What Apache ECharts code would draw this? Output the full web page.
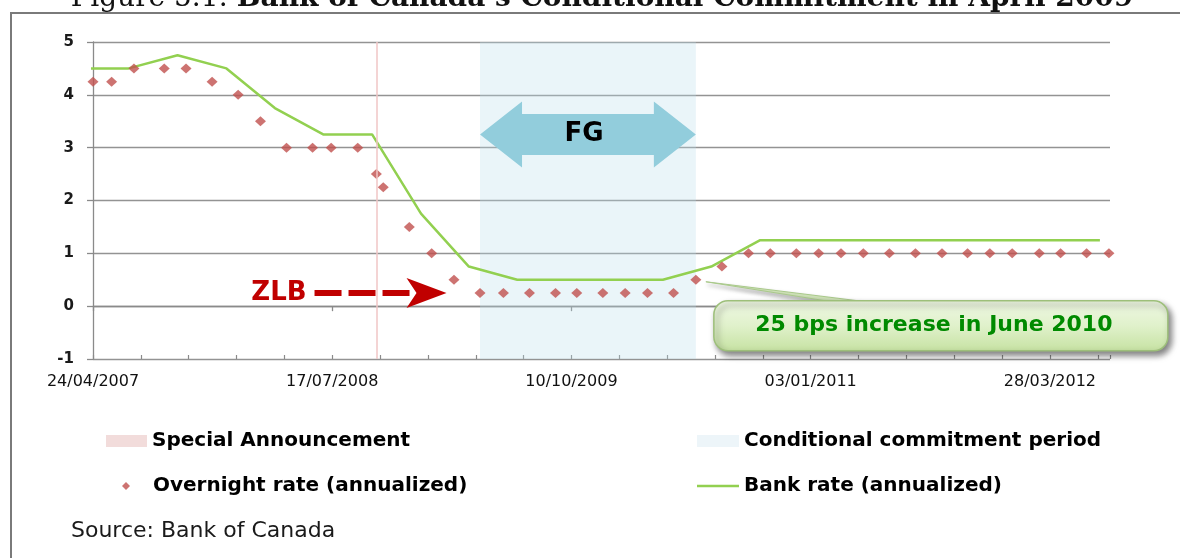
<!DOCTYPE html>
<html>
<head>
<meta charset="utf-8">
<title>Bank of Canada's Conditional Commitment in April 2009</title>
<script src="https://cdn.jsdelivr.net/npm/echarts@6/dist/echarts.min.js"></script>
<style>
  html, body { margin: 0; padding: 0; background: #fff; }
  #chart { width: 1180px; height: 558px; }
</style>
</head>
<body>
<div id="chart"></div>
<script>
// overnight target rate, on the fixed announcement dates (+ the special one in Oct 2008)
var overnightDates = [
  '2007-04-24', '2007-05-29', '2007-07-10', '2007-09-05', '2007-10-16', '2007-12-04',
  '2008-01-22', '2008-03-04', '2008-04-22', '2008-06-10', '2008-07-15', '2008-09-03', '2008-10-08', '2008-10-21', '2008-12-09',
  '2009-01-20', '2009-03-03', '2009-04-21', '2009-06-04', '2009-07-23', '2009-09-10', '2009-10-20', '2009-12-08',
  '2010-01-19', '2010-03-02', '2010-04-20', '2010-06-01', '2010-07-20', '2010-09-08', '2010-10-19', '2010-12-07',
  '2011-01-18', '2011-03-01', '2011-04-12', '2011-05-31', '2011-07-19', '2011-09-07', '2011-10-25', '2011-12-06',
  '2012-01-17', '2012-03-08', '2012-04-17', '2012-06-05', '2012-07-17'
];
var overnightRate = [
  4.25, 4.25, 4.5, 4.5, 4.5, 4.25,
  4, 3.5, 3, 3, 3, 3, 2.5, 2.25, 1.5,
  1, 0.5, 0.25, 0.25, 0.25, 0.25, 0.25, 0.25,
  0.25, 0.25, 0.25, 0.5, 0.75, 1, 1, 1,
  1, 1, 1, 1, 1, 1, 1, 1,
  1, 1, 1, 1, 1
];

// bank rate, quarter ends
var bankDates = [
  '2007-03-31', '2007-06-30', '2007-09-30', '2007-12-31',
  '2008-03-31', '2008-06-30', '2008-09-30', '2008-12-31',
  '2009-03-31', '2009-06-30', '2009-09-30', '2009-12-31',
  '2010-03-31', '2010-06-30', '2010-09-30', '2010-12-31',
  '2011-03-31', '2011-06-30', '2011-09-30', '2011-12-31',
  '2012-03-31', '2012-06-30'
];
var bankRate = [
  4.5, 4.5, 4.75, 4.5,
  3.75, 3.25, 3.25, 1.75,
  0.75, 0.5, 0.5, 0.5,
  0.5, 0.75, 1.25, 1.25,
  1.25, 1.25, 1.25, 1.25,
  1.25, 1.25
];

var specialAnnouncement = '2008-10-08';
var commitmentPeriod = ['2009-04-21', '2010-06-01'];

// axes
var axisStart = '2007-04-24';
var axisEnd = '2012-07-19';
var majorTickDays = 450;
var minorTickDays = 90;
var yTicks = [-1, 0, 1, 2, 3, 4, 5];

// annotations
var fgLevel = 3.25;
var zlbPoint = ['2009-02-17', 0.25];
var increasePoint = ['2010-06-01', 0.5];

var DAY = 86400000;
function dayOf(s) {
  return Math.round((Date.parse(s) - Date.parse(axisStart)) / DAY);
}
function dateLabel(v) {
  var d = new Date(Date.parse(axisStart) + v * DAY);
  var dd = ('0' + d.getUTCDate()).slice(-2);
  var mm = ('0' + (d.getUTCMonth() + 1)).slice(-2);
  return dd + '/' + mm + '/' + d.getUTCFullYear();
}

var axisGray = '#8a8a8a';
var legendText = { fontFamily: 'DejaVu Sans', fontWeight: 'bold', fontSize: 20, color: '#000' };

var chart = echarts.init(document.getElementById('chart'));

var option = {
  animation: false,
  grid: { left: 93, right: 70, top: 42, bottom: 199 },
  xAxis: [{
    type: 'value',
    min: 0,
    max: dayOf(axisEnd),
    interval: majorTickDays,
    axisLine: { lineStyle: { color: axisGray, width: 1.3 } },
    axisTick: { length: 5, lineStyle: { color: axisGray, width: 1.3 } },
    axisLabel: {
      margin: 15, fontSize: 16, fontFamily: 'DejaVu Sans', color: '#111',
      showMaxLabel: false, formatter: dateLabel
    },
    splitLine: { show: false }
  }, {
    // inside ticks every 90 days
    type: 'value',
    position: 'bottom',
    min: 0,
    max: dayOf(axisEnd),
    interval: minorTickDays,
    axisLine: { show: false },
    axisTick: { inside: true, length: 4, lineStyle: { color: axisGray, width: 1.2 } },
    axisLabel: { show: false },
    splitLine: { show: false }
  }],
  yAxis: {
    type: 'value',
    min: yTicks[0],
    max: yTicks[yTicks.length - 1],
    interval: 1,
    axisLine: { show: true, lineStyle: { color: axisGray, width: 1.3 } },
    axisTick: { show: true, length: 6, lineStyle: { color: axisGray, width: 1.3 } },
    axisLabel: { margin: 19, fontSize: 15, fontFamily: 'DejaVu Sans', fontWeight: 'bold', color: '#1a1a1a' },
    splitLine: { lineStyle: { color: '#939393', width: 1.3 } }
  },
  legend: [
    { data: [{ name: 'Special Announcement', icon: 'rect', itemStyle: { color: '#f2dcdb' } }],
      left: 106, top: 431, padding: 0, itemWidth: 41, itemHeight: 12, selectedMode: false, textStyle: legendText },
    { data: [{ name: 'Conditional commitment period', icon: 'rect', itemStyle: { color: '#edf5f9' } }],
      left: 697, top: 431, padding: 0, itemWidth: 42, itemHeight: 12, selectedMode: false, textStyle: legendText },
    { data: [{ name: 'Overnight rate (annualized)', icon: 'diamond' }],
      left: 122, top: 476, padding: 0, itemWidth: 8, itemHeight: 8, selectedMode: false,
      textStyle: Object.assign({ padding: [0, 0, 0, 18] }, legendText) },
    { data: [{ name: 'Bank rate (annualized)', icon: 'rect' }],
      left: 697, top: 476, padding: 0, itemWidth: 42, itemHeight: 2.5, selectedMode: false, textStyle: legendText }
  ],
  series: [{
    name: 'Conditional commitment period',
    type: 'line',
    data: [],
    itemStyle: { color: '#edf5f9' },
    markArea: {
      silent: true,
      itemStyle: { color: 'rgba(186,221,234,0.3)' },
      data: [[{ xAxis: dayOf(commitmentPeriod[0]) }, { xAxis: dayOf(commitmentPeriod[1]) }]]
    }
  }, {
    name: 'Special Announcement',
    type: 'line',
    data: [],
    itemStyle: { color: '#f2dcdb' },
    markLine: {
      silent: true,
      symbol: ['none', 'none'],
      label: { show: false },
      lineStyle: { color: '#f1c6c6', width: 1.5, type: 'solid' },
      data: [{ xAxis: dayOf(specialAnnouncement) }]
    }
  }, {
    name: 'Bank rate (annualized)',
    type: 'line',
    symbol: 'none',
    itemStyle: { color: '#92d050' },
    lineStyle: { color: '#92d050', width: 2.5 },
    data: bankDates.map(function (d, i) { return [dayOf(d), bankRate[i]]; }),
    z: 3
  }, {
    name: 'Overnight rate (annualized)',
    type: 'scatter',
    symbol: 'diamond',
    symbolSize: [11, 10],
    itemStyle: { color: '#c0504d' },
    clip: false,
    data: overnightDates.map(function (d, i) { return [dayOf(d), overnightRate[i]]; }),
    z: 4
  }]
};

chart.setOption(option);

function toPx(d, v) {
  return chart.convertToPixel({ gridIndex: 0 }, [dayOf(d), v]);
}

// annotations placed from data coordinates
function drawNotes() {
  var fgL = toPx(commitmentPeriod[0], fgLevel);
  var fgR = toPx(commitmentPeriod[1], fgLevel);
  var cy = fgL[1], x0 = fgL[0], x1 = fgR[0];
  var head = 42, hh = 33, bh = 20.5;

  var zt = toPx(zlbPoint[0], zlbPoint[1]);
  var inc = toPx(increasePoint[0], increasePoint[1]);
  var bx = inc[0] + 18, by = inc[1] + 21, bw = 454, bhgt = 50;

  chart.setOption({
    graphic: [
      // frame of the figure
      { type: 'rect', silent: true, z: 1,
        shape: { x: 11, y: 13, width: 1200, height: 600 },
        style: { fill: 'none', stroke: '#7a7a7a', lineWidth: 2 } },
      // caption, mostly cut off at the top
      { type: 'text', silent: true, z: 1, x: 602, y: -1,
        style: {
          text: '{n|Figure 5.1: }{b|Bank of Canada\u2019s Conditional Commitment in April 2009}',
          align: 'center', verticalAlign: 'middle',
          rich: {
            n: { fontFamily: 'DejaVu Serif', fontSize: 28, fill: '#111' },
            b: { fontFamily: 'DejaVu Serif', fontSize: 28, fontWeight: 'bold', fill: '#111' }
          }
        } },
      // FG double arrow
      { type: 'polygon', silent: true, z: 10,
        shape: { points: [
          [x0, cy], [x0 + head, cy - hh], [x0 + head, cy - bh], [x1 - head, cy - bh], [x1 - head, cy - hh],
          [x1, cy], [x1 - head, cy + hh], [x1 - head, cy + bh], [x0 + head, cy + bh], [x0 + head, cy + hh]
        ] },
        style: { fill: '#92cddc' } },
      { type: 'text', silent: true, z: 11, x: (x0 + x1) / 2 - 4, y: cy,
        style: { text: 'FG', fontFamily: 'DejaVu Sans', fontWeight: 'bold', fontSize: 26, fill: '#000',
          align: 'center', verticalAlign: 'middle' } },
      // ZLB arrow
      { type: 'text', silent: true, z: 10, x: zt[0] - 140, y: zt[1],
        style: { text: 'ZLB', fontFamily: 'DejaVu Sans', fontWeight: 'bold', fontSize: 26, fill: '#c00000',
          align: 'right', verticalAlign: 'middle' } },
      { type: 'line', silent: true, z: 10,
        shape: { x1: zt[0] - 132, y1: zt[1], x2: zt[0] - 33, y2: zt[1] },
        style: { stroke: '#c00000', lineWidth: 6, lineDash: [27, 7] } },
      { type: 'polygon', silent: true, z: 10,
        shape: { points: [[zt[0], zt[1]], [zt[0] - 40, zt[1] - 15], [zt[0] - 30, zt[1]], [zt[0] - 40, zt[1] + 15]] },
        style: { fill: '#c00000' } },
      // callout for the June 2010 increase
      { type: 'polygon', silent: true, z: 9,
        shape: { points: [[inc[0] + 10, inc[1] + 2], [bx + 124, by + 2], [bx + 160, by + 2]] },
        style: { fill: '#d9edc1', stroke: '#a9c98a', lineWidth: 1,
          shadowColor: 'rgba(0,0,0,0.35)', shadowBlur: 4, shadowOffsetX: 2, shadowOffsetY: 3 } },
      { type: 'rect', silent: true, z: 10,
        shape: { x: bx, y: by, width: bw, height: bhgt, r: 14 },
        style: {
          fill: { type: 'linear', x: 0, y: 0, x2: 0, y2: 1, colorStops: [
            { offset: 0, color: '#eff8e4' }, { offset: 0.5, color: '#e0f1cb' }, { offset: 1, color: '#c6e2a2' }
          ] },
          stroke: '#9dbf7a', lineWidth: 1.5,
          shadowColor: 'rgba(0,0,0,0.5)', shadowBlur: 6, shadowOffsetX: 3, shadowOffsetY: 4
        } },
      { type: 'text', silent: true, z: 11, x: bx + 220, y: by + bhgt / 2,
        style: { text: '25 bps increase in June 2010', fontFamily: 'DejaVu Sans', fontWeight: 'bold', fontSize: 22,
          fill: '#008a00', align: 'center', verticalAlign: 'middle' } },
      // source
      { type: 'text', silent: true, z: 10, x: 71, y: 531,
        style: { text: 'Source: Bank of Canada', fontFamily: 'DejaVu Sans', fontSize: 22, fill: '#1a1a1a',
          align: 'left', verticalAlign: 'middle' } }
    ]
  });
}

drawNotes();
</script>
</body>
</html>
